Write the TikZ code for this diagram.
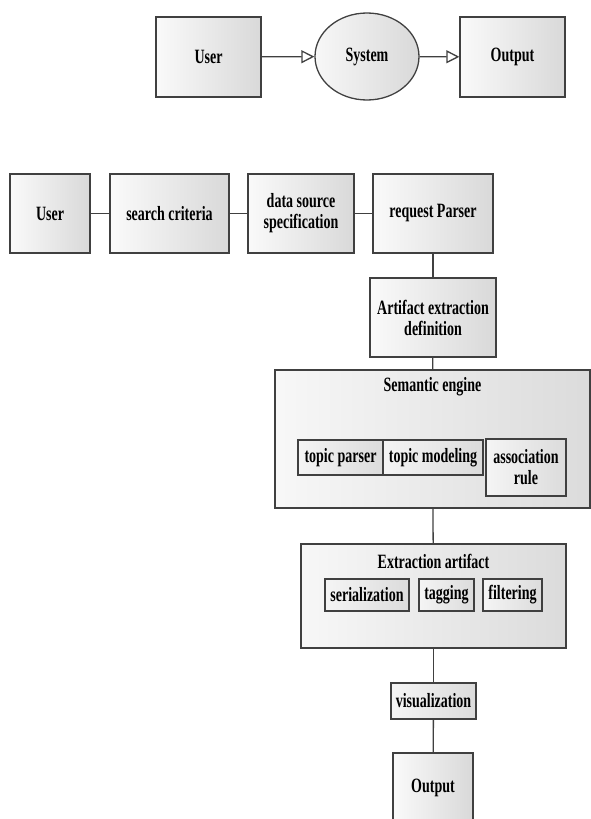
\documentclass[tikz,border=0pt]{standalone}
\usepackage{fontspec}
\usepackage{graphicx}
\setmainfont{Liberation Serif}
\usetikzlibrary{arrows.meta,shapes.geometric}
\newcommand{\tall}[1]{\scalebox{1}[1.45]{#1}}
\begin{document}
\begin{tikzpicture}[x=1pt,y=-1pt]

% definitions
\tikzstyle{block} = [rectangle, inner sep=1pt, align=center, draw=black!75, line width=1.3pt, left color=gray!4, right color=gray!30, font=\fontsize{14}{21}\selectfont\bfseries]

\tikzstyle{oval} = [ellipse, inner sep=0pt, draw=black!75, line width=1.3pt, left color=gray!6, right color=gray!30, font=\fontsize{14}{21}\selectfont\bfseries]

\tikzstyle{group} = [rectangle, inner sep=0pt, draw=black!75, line width=1.3pt, left color=gray!6, right color=gray!28]

\tikzstyle{part} = [rectangle, inner sep=1pt, align=center, draw=black!75, line width=1.3pt, left color=gray!8, right color=gray!28, font=\fontsize{14}{21}\selectfont\bfseries]

\tikzstyle{title} = [inner sep=0pt, font=\fontsize{14}{21}\selectfont\bfseries]

\tikzstyle{link} = [draw=black!75, line width=1.3pt]

\tikzstyle{arrow} = [link, -{Triangle[open,length=13pt,width=13pt]}]

\useasboundingbox (0,0) rectangle (591,819);

% the overview
\node (user0) [block, minimum width=105pt, minimum height=80pt] at (208.5,57) {\tall{User}};

\node (system) [oval, minimum width=104pt, minimum height=87pt] at (367,56.5) {\tall{System}};

\node (output0) [block, minimum width=105pt, minimum height=80pt] at (512.5,57) {\tall{Output}};

\draw [arrow] (user0) -- (system);
\draw [arrow] (system) -- (output0);

% the graph
\node (user1) [block, minimum width=80pt, minimum height=79pt] at (50,213.5) {\tall{User}};

\node (criteria) [block, minimum width=119pt, minimum height=79pt] at (169.5,213.5) {\tall{search criteria}};

\node (source) [block, minimum width=106pt, minimum height=79pt] at (301,213.5) {\tall{data source}\\\tall{specification}};

\node (parser) [block, minimum width=120pt, minimum height=79pt] at (433,213.5) {\tall{request Parser}};

\node (artifact) [block, minimum width=126pt, minimum height=79pt] at (433,317.5) {\tall{Artifact extraction}\\\tall{definition}};

\node (engine) [group, minimum width=315pt, minimum height=138pt] at (432.5,439) {};
\node (enginetitle) [title] at (432.5,387) {\tall{Semantic engine}};

\node (topicparser) [part, minimum width=85pt, minimum height=35pt] at (340.5,457.5) {\tall{topic parser}};

\node (topicmodel) [part, minimum width=100pt, minimum height=35pt] at (433,457.5) {\tall{topic modeling}};

\node (rule) [part, minimum width=80pt, minimum height=57pt] at (526,467.5) {\tall{association}\\\tall{rule}};

\node (extraction) [group, minimum width=265pt, minimum height=104pt] at (433.5,596) {};
\node (extractiontitle) [title] at (433.5,561) {\tall{Extraction artifact}};

\node (serial) [part, minimum width=84pt, minimum height=32pt] at (367,595) {\tall{serialization}};

\node (tagging) [part, minimum width=55pt, minimum height=32pt] at (446.5,595) {\tall{tagging}};

\node (filtering) [part, minimum width=59pt, minimum height=32pt] at (512.5,595) {\tall{filtering}};

\node (visual) [part, minimum width=85pt, minimum height=36pt] at (433.5,701) {\tall{visualization}};

\node (output1) [block, minimum width=80pt, minimum height=70pt] at (433,788) {\tall{Output}};

\draw [link] (user1) -- (criteria);
\draw [link] (criteria) -- (source);
\draw [link] (source) -- (parser);
\draw [link] (parser) -- (artifact);
\draw [link] (artifact) -- (engine);
\draw [link] (engine) -- (extraction);
\draw [link] (extraction) -- (visual);
\draw [link] (visual) -- (output1);

\end{tikzpicture}
\end{document}
